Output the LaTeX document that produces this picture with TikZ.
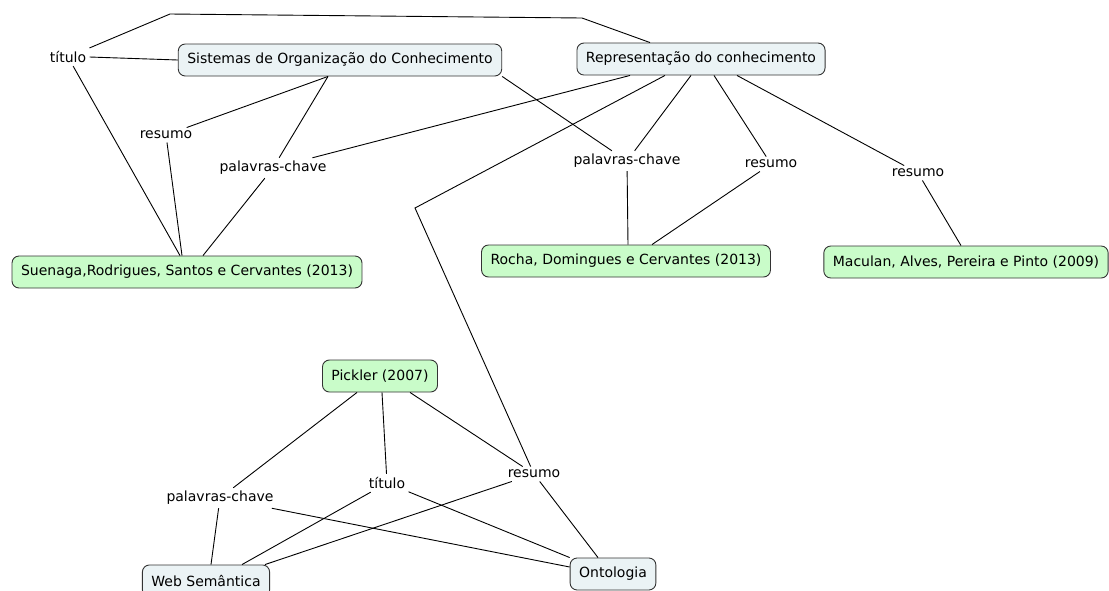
\documentclass[tikz,border=0pt]{standalone}
\usepackage{fontspec}
\setmainfont{DejaVu Sans}
\usetikzlibrary{positioning}
\definecolor{conceito}{HTML}{EBF3F5}
\definecolor{fonte}{HTML}{C9FCC9}

\begin{document}
\begin{tikzpicture}[x=1pt, y=-1pt, font=\fontsize{14}{16}\selectfont, line width=0.9pt,
  conc/.style = {draw=black!80, rounded corners=7pt, fill=conceito, inner xsep=9pt, minimum height=32pt},
  ref/.style = {conc, fill=fonte},
  lab/.style = {inner sep=3pt}]
            \useasboundingbox (0,0) rectangle (1109,590);
            % concepts and sources
            \node[conc] (soc) at (340,60) {Sistemas de Organização do Conhecimento};
            \node[conc] (rc) at (701,59) {Representação do conhecimento};
            \node[ref] (sue) at (187,272) {Suenaga,Rodrigues, Santos e Cervantes (2013)};
            \node[ref] (roc) at (626,261) {Rocha, Domingues e Cervantes (2013)};
            \node[ref] (mac) at (966,262) {Maculan, Alves, Pereira e Pinto (2009)};
            \node[ref] (pic) at (380,376) {Pickler (2007)};
            \node[conc] (web) at (206,581) {Web Semântica};
            \node[conc] (ont) at (613,574) {Ontologia};
            % link labels
            \node[lab] (t1) at (68,57) {título};
            \node[lab] (r1) at (166,135) {resumo};
            \node[lab] (p1) at (273,168) {palavras-chave};
            \node[lab] (p2) at (627,161) {palavras-chave};
            \node[lab] (r2) at (771,164) {resumo};
            \node[lab] (r3) at (918,173) {resumo};
            \node[lab] (p3) at (220,498) {palavras-chave};
            \node[lab] (t3) at (387,483) {título};
            \node[lab] (r4) at (534,474) {resumo};
            \coordinate (c1) at (170,14);
            \coordinate (c2) at (582,18);
            \coordinate (c3) at (415,208);
            % top part
            \draw (t1.east) -- (soc.west);
            \draw (t1) -- (c1) -- (c2) -- ([xshift=-51pt]rc.north);
            \draw (t1) -- ([xshift=-7pt]sue.north);
            \draw ([xshift=-12pt]soc.south) -- (r1);
            \draw ([xshift=-12pt]soc.south) -- (p1);
            \draw (r1) -- ([xshift=-5pt]sue.north);
            \draw (p1) -- ([xshift=16pt]sue.north);
            \draw (soc.south east) -- (p2);
            \draw ([xshift=-71pt]rc.south) -- (p1);
            \draw ([xshift=-36pt]rc.south) -- (c3) -- (r4);
            \draw ([xshift=-10pt]rc.south) -- (p2);
            \draw ([xshift=13pt]rc.south) -- (r2);
            \draw ([xshift=36pt]rc.south) -- (r3);
            \draw (p2) -- ([xshift=2pt]roc.north);
            \draw (r2) -- ([xshift=26pt]roc.north);
            \draw (r3) -- ([xshift=-5pt]mac.north);
            % bottom part
            \draw ([xshift=-23pt]pic.south) -- (p3);
            \draw ([xshift=2pt]pic.south) -- (t3);
            \draw ([xshift=30pt]pic.south) -- (r4);
            \draw (p3) -- ([xshift=5pt]web.north);
            \draw (p3) -- ([yshift=7pt]ont.west);
            \draw (t3) -- ([xshift=36pt]web.north);
            \draw (t3) -- (ont.north west);
            \draw (r4) -- ([xshift=59pt]web.north);
            \draw (r4) -- ([xshift=-15pt]ont.north);
        \end{tikzpicture}
\end{document}
